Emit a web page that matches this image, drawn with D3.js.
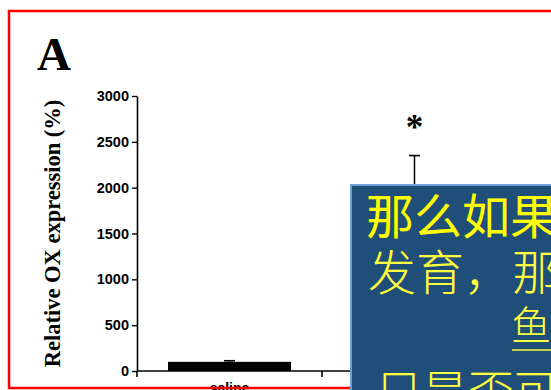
<!DOCTYPE html>
<html>
<head>
<meta charset="utf-8">
<script src="https://cdn.jsdelivr.net/npm/d3@7"></script>
<style>
  html, body { margin: 0; padding: 0; background: #fff; overflow: hidden; }
  svg { display: block; }
</style>
</head>
<body>
<svg id="chart" width="551" height="390"></svg>
<script>
// Relative OX expression per group (mean and upper SEM, %)
const categories = ["saline", "treatment"];
const meanValues = [100, 1900];
const semValues = [12, 450];
const yTicks = [0, 500, 1000, 1500, 2000, 2500, 3000];
const significance = ["", "*"];

// Overlay caption lines
const captionLines = ["那么如果", "发育，那", "鱼", "只是否可"];

const svg = d3.select("#chart");

const x = d3.scaleBand()
  .domain(categories)
  .range([137, 507])
  .paddingInner(0.335)
  .paddingOuter(0.1675);

const y = d3.scaleLinear().domain([0, 3000]).range([371, 96]);

const plot = svg.append("g");

// Panel letter
plot.append("text")
  .attr("x", 37).attr("y", 70)
  .attr("font-family", "Liberation Serif, Times New Roman, serif")
  .attr("font-weight", "bold")
  .attr("font-size", 47)
  .attr("fill", "#000")
  .text("A");

// Y axis
const yAxis = plot.append("g")
  .attr("transform", "translate(137,0)")
  .call(d3.axisLeft(y).tickValues(yTicks).tickFormat(d3.format("d"))
    .tickSize(5).tickSizeOuter(0).tickPadding(3));
yAxis.select(".domain").attr("stroke", "#000").attr("stroke-width", 1.6);
yAxis.selectAll(".tick line").attr("stroke", "#000").attr("stroke-width", 1.4);
yAxis.selectAll(".tick text")
  .attr("font-family", "Liberation Sans, Arial, sans-serif")
  .attr("font-weight", "bold")
  .attr("font-size", 14.5)
  .attr("fill", "#000");

// Y axis title
plot.append("text")
  .attr("transform", `translate(60,${(y(0) + y(3000)) / 2}) rotate(-90)`)
  .attr("text-anchor", "middle")
  .attr("font-family", "Liberation Serif, Times New Roman, serif")
  .attr("font-weight", "bold")
  .attr("font-size", 22.5)
  .attr("fill", "#000")
  .text("Relative OX expression (%)");

// X axis baseline with ticks at group boundaries
const gap = x.step() - x.bandwidth();
const boundaries = categories.map(c => x(c) - gap / 2).concat([x(categories[categories.length - 1]) + x.bandwidth() + gap / 2]);
plot.append("line")
  .attr("x1", x.range()[0]).attr("x2", x.range()[1])
  .attr("y1", y(0)).attr("y2", y(0))
  .attr("stroke", "#000").attr("stroke-width", 1.6);
plot.selectAll(".xtick").data(boundaries).join("line")
  .attr("class", "xtick")
  .attr("x1", d => d).attr("x2", d => d)
  .attr("y1", y(0)).attr("y2", y(0) + 6)
  .attr("stroke", "#000").attr("stroke-width", 1.6);

// Category labels
plot.selectAll(".xlabel").data(categories).join("text")
  .attr("class", "xlabel")
  .attr("x", d => x(d) + x.bandwidth() / 2)
  .attr("y", 393)
  .attr("text-anchor", "middle")
  .attr("font-family", "Liberation Sans, Arial, sans-serif")
  .attr("font-weight", "bold")
  .attr("font-size", 14)
  .attr("fill", "#000")
  .text(d => d);

// Error bars (upper only)
const groups = categories.map((c, i) => ({ c, mean: meanValues[i], sem: semValues[i], sig: significance[i] }));
plot.selectAll(".err").data(groups).join("line")
  .attr("class", "err")
  .attr("x1", d => x(d.c) + x.bandwidth() / 2).attr("x2", d => x(d.c) + x.bandwidth() / 2)
  .attr("y1", d => y(d.mean)).attr("y2", d => y(d.mean + d.sem))
  .attr("stroke", "#000").attr("stroke-width", 1.5);
plot.selectAll(".cap").data(groups).join("line")
  .attr("class", "cap")
  .attr("x1", d => x(d.c) + x.bandwidth() / 2 - 5.5).attr("x2", d => x(d.c) + x.bandwidth() / 2 + 5.5)
  .attr("y1", d => y(d.mean + d.sem)).attr("y2", d => y(d.mean + d.sem))
  .attr("stroke", "#000").attr("stroke-width", 1.6);

// Bars
plot.selectAll(".bar").data(groups).join("rect")
  .attr("class", "bar")
  .attr("x", d => x(d.c))
  .attr("width", x.bandwidth())
  .attr("y", d => y(d.mean))
  .attr("height", d => y(0) - y(d.mean))
  .attr("fill", "#000");

// Significance markers
plot.selectAll(".sig").data(groups.filter(d => d.sig)).join("text")
  .attr("class", "sig")
  .attr("x", d => x(d.c) + x.bandwidth() / 2)
  .attr("y", d => y(d.mean + d.sem) - 17)
  .attr("text-anchor", "middle")
  .attr("font-family", "Liberation Serif, Times New Roman, serif")
  .attr("font-weight", "bold")
  .attr("font-size", 35)
  .attr("fill", "#000")
  .text(d => d.sig);

// Red frame
svg.append("rect")
  .attr("x", 9).attr("y", 11)
  .attr("width", 600).attr("height", 377)
  .attr("fill", "none")
  .attr("stroke", "#ff0000")
  .attr("stroke-width", 2.5);

// Caption box
const box = svg.append("g");
box.append("rect")
  .attr("x", 351).attr("y", 185)
  .attr("width", 260).attr("height", 260)
  .attr("fill", "#1f4e79")
  .attr("stroke", "#6f9fd4")
  .attr("stroke-width", 2);

const captionStyle = [
  { x: 366, y: 234, size: 48, weight: 400, color: "#ffff00" },
  { x: 368, y: 290, size: 48, weight: 300, color: "#ffff40" },
  { x: 511, y: 340, size: 40, weight: 300, color: "#ffff40" },
  { x: 376, y: 408, size: 46, weight: 300, color: "#ffff40" }
];
const captions = box.selectAll(".cap-line").data(captionLines).join("text")
  .attr("class", "cap-line")
  .attr("x", (d, i) => captionStyle[i].x)
  .attr("y", (d, i) => captionStyle[i].y)
  .attr("font-family", "Noto Sans CJK SC, sans-serif")
  .attr("font-size", (d, i) => captionStyle[i].size)
  .attr("font-weight", (d, i) => captionStyle[i].weight)
  .attr("fill", (d, i) => captionStyle[i].color)
  .text(d => d);

// Underline beneath the third caption line
const third = captions.filter((d, i) => i === 2).node();
const thirdLen = third.getComputedTextLength();
box.append("line")
  .attr("x1", captionStyle[2].x + 1).attr("x2", captionStyle[2].x + thirdLen + 60)
  .attr("y1", 350).attr("y2", 350)
  .attr("stroke", "#ffff40").attr("stroke-width", 1.5);
</script>
</body>
</html>
